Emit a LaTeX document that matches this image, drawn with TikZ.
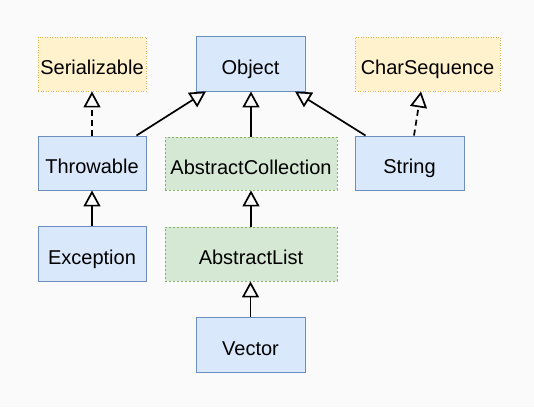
\documentclass[tikz,border=0pt]{standalone}
\usepackage{fontspec}
\setmainfont{Liberation Sans}
\usetikzlibrary{arrows.meta,positioning}
\definecolor{bg}{HTML}{FAFAFA}
\definecolor{bluefill}{HTML}{DAE8FC}
\definecolor{bluedraw}{HTML}{6C8EBF}
\definecolor{yelfill}{HTML}{FFF2CC}
\definecolor{yeldraw}{HTML}{D6B656}
\definecolor{grnfill}{HTML}{D5E8D4}
\definecolor{grndraw}{HTML}{82B366}
\tikzset{
  box/.style={rectangle, inner sep=0pt, line width=0.9pt, font=\fontsize{20}{24}\selectfont, text=black, text height=22pt, text depth=0.4pt},
  classbox/.style={box, fill=bluefill, draw=bluedraw},
  ifacebox/.style={box, fill=yelfill, draw=yeldraw, dash pattern=on 1pt off 1.5pt},
  absbox/.style={box, fill=grnfill, draw=grndraw, dash pattern=on 2pt off 2pt},
  inherit/.style={line width=1.7pt, -{Triangle[open, length=16pt, width=17pt, fill=bg]}},
  realize/.style={inherit, dash pattern=on 6pt off 4pt},
}
\begin{document}
\begin{tikzpicture}[x=1pt, y=-1pt]
\useasboundingbox[fill=bg] (0,0) rectangle (534,407);
\node[ifacebox, minimum width=108pt, minimum height=54pt] (ser) at (92,64) {Serializable};
\node[classbox, minimum width=109pt, minimum height=55pt] (obj) at (250.5,63.5) {Object};
\node[ifacebox, minimum width=145pt, minimum height=54pt] (cs) at (427.5,64) {CharSequence};
\node[classbox, minimum width=108pt, minimum height=54pt] (thr) at (92,163) {Throwable};
\node[absbox, minimum width=172pt, minimum height=53pt] (ac) at (251,163.5) {AbstractCollection};
\node[classbox, minimum width=109pt, minimum height=54pt] (str) at (409.5,163) {String};
\node[classbox, minimum width=108pt, minimum height=55pt] (exc) at (92,253.5) {Exception};
\node[absbox, minimum width=172pt, minimum height=54pt] (al) at (251,254) {AbstractList};
\node[classbox, minimum width=109pt, minimum height=55pt] (vec) at (250.5,344.5) {Vector};

\draw[realize] (thr.north) -- (ser.south);
\draw[inherit] ([xshift=-10pt]thr.north east) -- ([xshift=-44.5pt]obj.south);
\draw[inherit] (ac.north) -- (ac.north |- obj.south);
\draw[inherit] ([xshift=11pt]str.north west) -- ([xshift=44.5pt]obj.south);
\draw[realize] ([xshift=4.5pt]str.north) -- ([xshift=-6.5pt]cs.south);
\draw[inherit] (exc.north) -- (thr.south);
\draw[inherit] (al.north) -- (ac.south);
\draw[inherit] (vec.north) -- (vec.north |- al.south);
\end{tikzpicture}
\end{document}
